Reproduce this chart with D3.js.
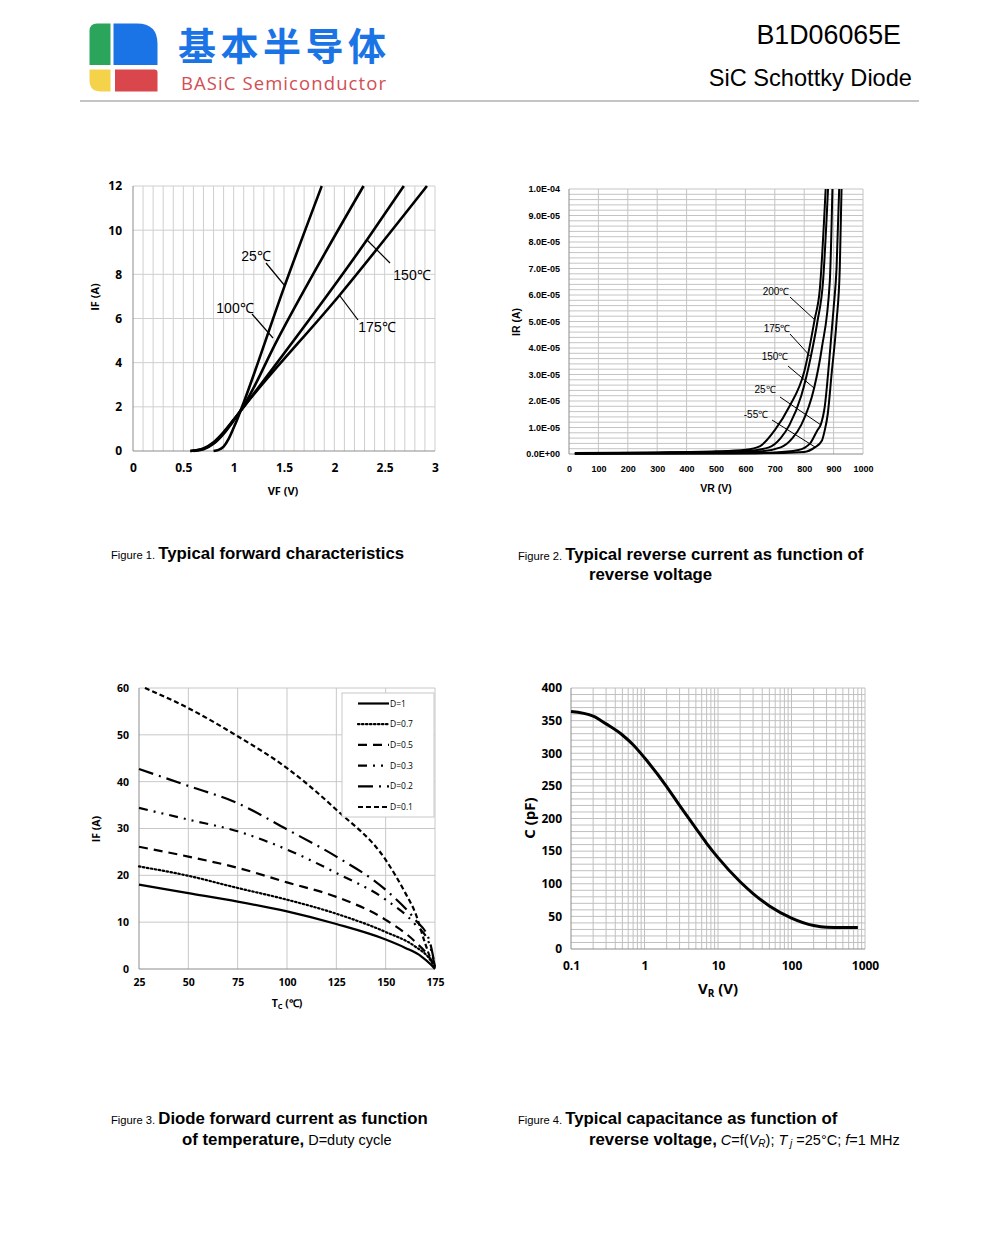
<!DOCTYPE html>
<html lang="en">
<head>
    <meta charset="utf-8">
    <title>B1D06065E</title>
    <script src="https://d3js.org/d3.v7.min.js"></script>
    <style type="text/css">
        body { margin: 0; background: white; }
        .grid line { stroke: #c8c8c8; stroke-width: 1; }
        .tick text { fill: black; }
        .curve { fill: none; stroke: black; stroke-linejoin: round; }
    </style>
</head>
<body>
<div id="main"></div>
<script type="text/javascript">
// ---------- data ----------
// figure 1: forward characteristics, [VF, IF]
var fwd25  = [[0.8,0],[0.85,0.05],[0.9,0.2],[0.95,0.55],[1.0,1.05],[1.05,1.6],[1.1,2.2],[1.5,7.4],[1.875,12]];
var fwd100 = [[0.6,0],[0.7,0.08],[0.8,0.33],[0.9,0.78],[1.0,1.38],[1.1,2.05],[1.43,5.0],[2.29,12]];
var fwd150 = [[0.57,0],[0.7,0.1],[0.8,0.36],[0.9,0.82],[1.0,1.4],[1.1,2.0],[2.33,9.6],[2.69,12]];
var fwd175 = [[0.57,0],[0.7,0.12],[0.8,0.4],[0.9,0.86],[1.0,1.42],[1.1,2.0],[2.06,7.1],[2.92,12]];
var fwdTicksX = [0,0.5,1,1.5,2,2.5,3];
var fwdTicksY = [0,2,4,6,8,10,12];

// figure 2: reverse current, [VR, IR]
var rev200 = [[20,4e-7],[300,6e-7],[500,1e-6],[600,1.6e-6],[650,3e-6],[700,9e-6],[750,1.8e-5],[800,3.1e-5],[836,5.1e-5],[853,6.2e-5],[873,1e-4]];
var rev175 = [[20,3e-7],[300,5e-7],[500,8e-7],[600,1.1e-6],[680,2.5e-6],[720,6e-6],[750,1.1e-5],[790,2.2e-5],[823,3.7e-5],[845,5e-5],[864,6.5e-5],[881,1e-4]];
var rev150 = [[20,2e-7],[500,6e-7],[650,1e-6],[720,2.5e-6],[760,6e-6],[790,1.1e-5],[834,2.5e-5],[860,4e-5],[887,6.5e-5],[896,1e-4]];
var rev25  = [[20,1e-7],[500,3e-7],[700,6e-7],[780,1.5e-6],[820,4e-6],[845,9e-6],[856,1.1e-5],[870,1.8e-5],[885,3.5e-5],[900,5.5e-5],[910,7e-5],[919,1e-4]];
var revm55 = [[20,1e-7],[600,2e-7],[800,8e-7],[836,2.5e-6],[860,5e-6],[870,9e-6],[880,1.5e-5],[893,3e-5],[910,5e-5],[921,7e-5],[927,1e-4]];
var revTicksY = ["0.0E+00","1.0E-05","2.0E-05","3.0E-05","4.0E-05","5.0E-05","6.0E-05","7.0E-05","8.0E-05","9.0E-05","1.0E-04"];
var revTicksX = [0,100,200,300,400,500,600,700,800,900,1000];

// figure 3: forward current vs case temperature, [Tc, IF]
var dutyNames = ["D=1","D=0.7","D=0.5","D=0.3","D=0.2","D=0.1"];
var duty1  = [[25,18],[50,16.2],[75,14.4],[100,12.3],[125,9.6],[150,6.3],[160,4.5],[168,2.7],[173,0.9],[175,0]];
var duty07 = [[25,21.9],[50,19.9],[75,17.3],[100,14.8],[125,11.8],[150,7.9],[165,4.8],[172,2.3],[175,0.3]];
var duty05 = [[25,26.1],[50,24],[75,21.6],[100,18.5],[125,15.4],[150,10.5],[165,5.8],[172,2.6],[175,0.5]];
var duty03 = [[25,34.4],[50,31.9],[75,29.4],[100,25.5],[125,20.5],[150,14.8],[165,9.5],[172,5.5],[175,0.5]];
var duty02 = [[25,42.7],[50,39.1],[75,35.4],[100,29.8],[125,24],[150,16.9],[165,10.5],[172,6.3],[175,0.5]];
var duty01 = [[28,60],[50,55.7],[75,49.7],[100,42.9],[125,34],[150,23.3],[160,16.2],[165,12],[170,5.5],[173,2],[175,0.5]];
var tempTicksX = [25,50,75,100,125,150,175];
var tempTicksY = [0,10,20,30,40,50,60];

// figure 4: capacitance, [VR, C]
var capData = [[0.1,364],[0.2,357],[0.3,345],[0.5,328],[0.7,313],[1,293],[2,249],[3,220],[5,185],[7,162],[10,140],[20,103],[30,85],[50,66],[100,47.5],[200,36],[300,33.3],[500,33],[800,33]];
var capTicksX = [0.1,1,10,100,1000];
var capTicksY = [0,50,100,150,200,250,300,350,400];

// ---------- page ----------
var svg = d3.select("#main").append("svg")
    .attr("width", 1000).attr("height", 1250)
    .style("font-family", "'Liberation Sans', Arial, sans-serif");

// header / logo
var logo = svg.append("g");
logo.append("path").attr("fill", "#2ba55b")
    .attr("d", "M89.5,31 Q89.5,23.5 97,23.5 L110.5,23.5 L110.5,65 L89.5,65 Z");
logo.append("path").attr("fill", "#1a74e6")
    .attr("d", "M113.5,23.5 L137,23.5 Q157.5,23.5 157.5,44 L157.5,65 L113.5,65 Z");
logo.append("path").attr("fill", "#f4d34b")
    .attr("d", "M89.5,69.5 L110.5,69.5 L110.5,91.5 L101,91.5 Q89.5,91.5 89.5,80 Z");
logo.append("path").attr("fill", "#d9474c")
    .attr("d", "M115,69.5 L154.5,69.5 Q157.5,69.5 157.5,72.5 L157.5,91.5 L115,91.5 Z");
svg.append("text").attr("x", 178).attr("y", 59.5)
    .style("font-family", "'Noto Sans CJK SC'").style("font-weight", "bold")
    .style("font-size", "38px").attr("fill", "#1a74e6").attr("textLength", 208)
    .text("基本半导体");
svg.append("text").attr("x", 181).attr("y", 89.5)
    .style("font-family", "'Open Sans'").style("font-size", "18.5px")
    .attr("fill", "#d14f55").attr("textLength", 205)
    .text("BASiC Semiconductor");
svg.append("text").attr("x", 901).attr("y", 44).attr("text-anchor", "end")
    .style("font-size", "26.8px").text("B1D06065E");
svg.append("text").attr("x", 912).attr("y", 86).attr("text-anchor", "end")
    .style("font-size", "23.6px").text("SiC Schottky Diode");
svg.append("line").attr("x1", 80).attr("x2", 919).attr("y1", 101).attr("y2", 101)
    .attr("stroke", "#8a8a8a").attr("stroke-width", 1);

function grid(g, xs, ys, x, y, color) {
    var gg = g.append("g").attr("class", "grid");
    gg.selectAll("line.v").data(xs).enter().append("line")
        .attr("x1", function(d){ return x(d); }).attr("x2", function(d){ return x(d); })
        .attr("y1", y.range()[0]).attr("y2", y.range()[1])
        .style("stroke", color);
    gg.selectAll("line.h").data(ys).enter().append("line")
        .attr("y1", function(d){ return y(d); }).attr("y2", function(d){ return y(d); })
        .attr("x1", x.range()[0]).attr("x2", x.range()[1])
        .style("stroke", color);
}

function axes(g, x, y, tx, ty, fmtX, fmtY, font, size, padX, padY) {
    var ax = g.append("g").attr("transform", "translate(0," + y.range()[0] + ")")
        .call(d3.axisBottom(x).tickValues(tx).tickFormat(fmtX).tickSize(0).tickPadding(padX));
    var ay = g.append("g").attr("transform", "translate(" + x.range()[0] + ",0)")
        .call(d3.axisLeft(y).tickValues(ty).tickFormat(fmtY).tickSize(0).tickPadding(padY));
    [ax, ay].forEach(function(a){
        a.select(".domain").remove();
        a.selectAll("text").style("font-family", font).style("font-size", size)
            .style("font-weight", "bold");
    });
    // axis lines
    g.append("line").attr("x1", x.range()[0]).attr("x2", x.range()[1])
        .attr("y1", y.range()[0]).attr("y2", y.range()[0]).attr("stroke", "#8c8c8c");
    g.append("line").attr("x1", x.range()[0]).attr("x2", x.range()[0])
        .attr("y1", y.range()[0]).attr("y2", y.range()[1]).attr("stroke", "#8c8c8c");
}

function leader(g, x1, y1, x2, y2, w) {
    g.append("line").attr("x1", x1).attr("y1", y1).attr("x2", x2).attr("y2", y2)
        .attr("stroke", "black").attr("stroke-width", w || 1.2);
}

// ---------- figure 1 ----------
(function(){
    var g = svg.append("g");
    var x = d3.scaleLinear().domain([0, 3]).range([133, 435]);
    var y = d3.scaleLinear().domain([0, 12]).range([451, 186]);
    grid(g, d3.range(1, 31).map(function(i){ return i / 10; }), [2,4,6,8,10,12], x, y, "#cfcfcf");
    axes(g, x, y, fwdTicksX, fwdTicksY, d3.format("~g"), d3.format("d"), "'Open Sans'", "12px", 12, 11);
    var line = d3.line().x(function(d){ return x(d[0]); }).y(function(d){ return y(d[1]); })
        .curve(d3.curveMonotoneX);
    [fwd25, fwd100, fwd150, fwd175].forEach(function(s){
        g.append("path").attr("class", "curve").attr("d", line(s)).attr("stroke-width", 2.6);
    });
    var lab = [["25℃", 256, 261], ["100℃", 235, 313], ["150℃", 412, 280], ["175℃", 377, 332]];
    lab.forEach(function(l){
        g.append("text").attr("x", l[1]).attr("y", l[2]).attr("text-anchor", "middle")
            .style("font-size", "14px").text(l[0]);
    });
    leader(g, 266, 263, 285, 286);
    leader(g, 252, 314, 273, 338);
    leader(g, 390, 263, 367, 240);
    leader(g, 358, 320, 340, 296);
    g.append("text").attr("x", 283).attr("y", 495).attr("text-anchor", "middle")
        .style("font-family", "'Open Sans'").style("font-weight", "bold").style("font-size", "11px")
        .text("VF (V)");
    g.append("text").attr("transform", "translate(99,297) rotate(-90)").attr("text-anchor", "middle")
        .style("font-family", "'Open Sans'").style("font-weight", "bold").style("font-size", "11px")
        .text("IF (A)");
})();

// ---------- figure 2 ----------
(function(){
    var g = svg.append("g");
    var x = d3.scaleLinear().domain([0, 1000]).range([569, 863]);
    var y = d3.scaleLinear().domain([0, 1e-4]).range([454, 189]);
    grid(g, d3.range(100, 1001, 100), d3.range(1, 51).map(function(i){ return i * 2e-6; }), x, y, "#c4c4c4");
    axes(g, x, y, revTicksX, revTicksY.map(function(t){ return +t; }), d3.format("d"),
        function(d, i){ return revTicksY[i]; }, "'Liberation Sans', Arial", "9px", 12, 9);
    var line = d3.line().x(function(d){ return x(d[0]); }).y(function(d){ return y(d[1]); })
        .curve(d3.curveMonotoneX);
    [rev200, rev175, rev150, rev25, revm55].forEach(function(s){
        g.append("path").attr("class", "curve").attr("d", line(s)).attr("stroke-width", 2);
    });
    var lab = [["200℃", 776, 295], ["175℃", 777, 332], ["150℃", 775, 360], ["25℃", 765, 393], ["-55℃", 756, 418]];
    lab.forEach(function(l){
        g.append("text").attr("x", l[1]).attr("y", l[2]).attr("text-anchor", "middle")
            .style("font-size", "10px").text(l[0]);
    });
    leader(g, 790, 297, 815, 320, 1);
    leader(g, 790, 334, 811, 357, 1);
    leader(g, 788, 366, 814, 388, 1);
    leader(g, 780, 397, 821, 425, 1);
    leader(g, 772, 420, 815, 447, 1);
    g.append("text").attr("x", 716).attr("y", 492).attr("text-anchor", "middle")
        .style("font-weight", "bold").style("font-size", "10.5px").text("VR (V)");
    g.append("text").attr("transform", "translate(520,322) rotate(-90)").attr("text-anchor", "middle")
        .style("font-weight", "bold").style("font-size", "10.5px").text("IR (A)");
})();

// ---------- figure 3 ----------
(function(){
    var g = svg.append("g");
    var x = d3.scaleLinear().domain([25, 175]).range([139, 435]);
    var y = d3.scaleLinear().domain([0, 60]).range([969, 688]);
    grid(g, [50,75,100,125,150,175], [10,20,30,40,50,60], x, y, "#c8c8c8");
    axes(g, x, y, tempTicksX, tempTicksY, d3.format("d"), d3.format("d"), "'Open Sans'", "10.5px", 10, 10);
    var dashes = [null, "1.5,2.5", "9,6", "9,6,2,6,2,6", "15,6,2,6", "5,3"];
    var caps = ["butt", "round", "butt", "butt", "butt", "butt"];
    var line = d3.line().x(function(d){ return x(d[0]); }).y(function(d){ return y(d[1]); })
        .curve(d3.curveMonotoneX);
    [duty1, duty07, duty05, duty03, duty02, duty01].forEach(function(s, i){
        g.append("path").attr("class", "curve").attr("d", line(s))
            .attr("stroke-width", 2.2).attr("stroke-dasharray", dashes[i])
            .attr("stroke-linecap", caps[i]);
    });
    // legend
    g.append("rect").attr("x", 342).attr("y", 693).attr("width", 92).attr("height", 124)
        .attr("fill", "white").attr("stroke", "#c8c8c8");
    dutyNames.forEach(function(n, i){
        var yy = 703.5 + i * 20.7;
        g.append("line").attr("x1", 358).attr("x2", 389).attr("y1", yy).attr("y2", yy)
            .attr("stroke", "black").attr("stroke-width", 2.2)
            .attr("stroke-dasharray", dashes[i]).attr("stroke-linecap", caps[i]);
        g.append("text").attr("x", 390).attr("y", yy + 3).style("font-family", "'Open Sans'")
            .style("font-size", "8.5px").text(n);
    });
    var xl = g.append("text").attr("x", 287).attr("y", 1007).attr("text-anchor", "middle")
        .style("font-family", "'Open Sans'").style("font-weight", "bold").style("font-size", "10.5px");
    xl.append("tspan").text("T");
    xl.append("tspan").attr("dy", 2).style("font-size", "7.5px").text("C");
    xl.append("tspan").attr("dy", -2).text(" (℃)");
    g.append("text").attr("transform", "translate(100,829) rotate(-90)").attr("text-anchor", "middle")
        .style("font-family", "'Open Sans'").style("font-weight", "bold").style("font-size", "10.5px")
        .text("IF (A)");
})();

// ---------- figure 4 ----------
(function(){
    var g = svg.append("g");
    var x = d3.scaleLog().domain([0.1, 1000]).range([571, 865]);
    var y = d3.scaleLinear().domain([0, 400]).range([949, 688]);
    var minor = [];
    [0.1, 1, 10, 100].forEach(function(dec){
        for (var k = 2; k <= 10; k++) minor.push(dec * k);
    });
    grid(g, minor, d3.range(10, 401, 10), x, y, "#c0c0c0");
    axes(g, x, y, capTicksX, capTicksY, function(d){ return d3.format("~g")(d); }, d3.format("d"),
        "'Open Sans'", "12px", 12, 9);
    var line = d3.line().x(function(d){ return x(d[0]); }).y(function(d){ return y(d[1]); })
        .curve(d3.curveMonotoneX);
    g.append("path").attr("class", "curve").attr("d", line(capData)).attr("stroke-width", 3);
    var xl = g.append("text").attr("x", 718).attr("y", 994).attr("text-anchor", "middle")
        .style("font-family", "'Open Sans'").style("font-weight", "bold").style("font-size", "15px");
    xl.append("tspan").text("V");
    xl.append("tspan").attr("dy", 3).style("font-size", "10px").text("R");
    xl.append("tspan").attr("dy", -3).text(" (V)");
    g.append("text").attr("transform", "translate(535,818) rotate(-90)").attr("text-anchor", "middle")
        .style("font-family", "'Open Sans'").style("font-weight", "bold").style("font-size", "15px")
        .text("C (pF)");
})();

// ---------- captions ----------
function caption(x, y, num, bold) {
    var t = svg.append("text").attr("x", x).attr("y", y);
    t.append("tspan").style("font-size", "11.2px").text("Figure " + num + ". ");
    t.append("tspan").style("font-size", "16.8px").style("font-weight", "bold").text(bold);
    return t;
}
caption(111, 559, 1, "Typical forward characteristics");
caption(518, 560, 2, "Typical reverse current as function of");
svg.append("text").attr("x", 589).attr("y", 580).style("font-size", "16.8px").style("font-weight", "bold")
    .text("reverse voltage");
caption(111, 1124, 3, "Diode forward current as function");
var c3 = svg.append("text").attr("x", 182).attr("y", 1145).style("font-size", "16.8px");
c3.append("tspan").style("font-weight", "bold").text("of temperature,");
c3.append("tspan").style("font-size", "14.5px").text(" D=duty cycle");
caption(518, 1124, 4, "Typical capacitance as function of");
var c4 = svg.append("text").attr("x", 589).attr("y", 1145).style("font-size", "16.8px");
c4.append("tspan").style("font-weight", "bold").text("reverse voltage,");
c4.append("tspan").style("font-size", "14.5px").style("font-style", "italic").text(" C");
c4.append("tspan").style("font-size", "14.5px").text("=f(");
c4.append("tspan").style("font-size", "14.5px").style("font-style", "italic").text("V");
c4.append("tspan").style("font-size", "10px").style("font-style", "italic").attr("dy", 2).text("R");
c4.append("tspan").style("font-size", "14.5px").attr("dy", -2).text("); ");
c4.append("tspan").style("font-size", "14.5px").style("font-style", "italic").text("T");
c4.append("tspan").style("font-size", "10px").style("font-style", "italic").attr("dy", 2).text(" j");
c4.append("tspan").style("font-size", "14.5px").attr("dy", -2).text(" =25°C; ");
c4.append("tspan").style("font-size", "14.5px").style("font-style", "italic").text("f");
c4.append("tspan").style("font-size", "14.5px").text("=1 MHz");
</script>
</body>
</html>
